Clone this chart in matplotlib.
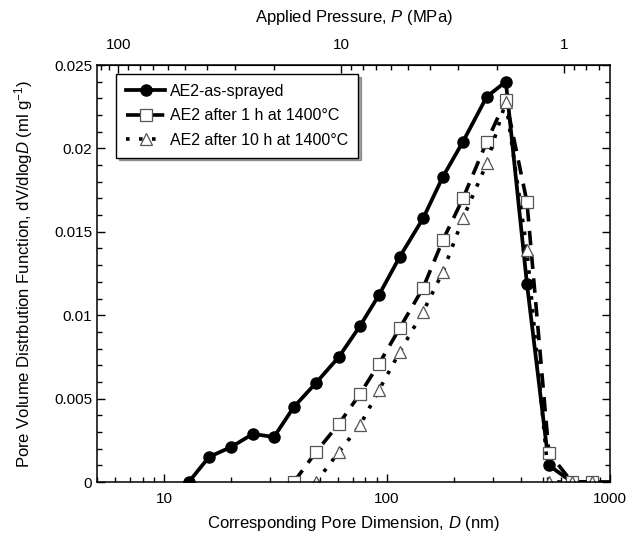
import numpy as np
import matplotlib
matplotlib.use("Agg")
import matplotlib.pyplot as plt
from matplotlib.ticker import FixedLocator, MultipleLocator, FuncFormatter, NullFormatter

plt.rcParams["font.family"] = ["Liberation Sans", "DejaVu Sans"]
plt.rcParams["mathtext.fontset"] = "custom"
plt.rcParams["mathtext.rm"] = "Liberation Sans"
plt.rcParams["mathtext.it"] = "Liberation Sans:italic"

# pore dimension D (nm) - mercury intrusion points
d_sprayed = [12.9, 15.9, 20.0, 25.0, 31.1, 38.2, 48.0, 60.8, 75.6, 91.9, 114, 145,
             178, 219, 280, 341, 424, 532, 675, 830, 1000]
v_sprayed = [0, 0.0015, 0.0021, 0.00288, 0.0027, 0.0045, 0.00594, 0.0075, 0.00935,
             0.0112, 0.0135, 0.0158, 0.0183, 0.0204, 0.0231, 0.0240, 0.0119, 0.0010,
             0, 0, 0]

d_1h = [38.2, 48.0, 60.8, 75.6, 91.9, 114, 145, 178, 219, 280, 341, 424, 532, 675, 830]
v_1h = [0, 0.0018, 0.00348, 0.00528, 0.00707, 0.00923, 0.01163, 0.0145, 0.0170,
        0.0204, 0.0229, 0.0168, 0.00174, 0, 0]

d_10h = [48.0, 60.8, 75.6, 91.9, 114, 145, 178, 219, 280, 341, 424, 532, 675, 830]
v_10h = [0, 0.0018, 0.0034, 0.0055, 0.0078, 0.0102, 0.0126, 0.0158, 0.0191, 0.0228,
         0.0139, 0, 0, 0]

labels = ["AE2-as-sprayed", "AE2 after 1 h at 1400°C", "AE2 after 10 h at 1400°C"]

# top axis ticks (MPa)
p_major = [1, 10, 100]
p_minor = [0.7, 0.8, 0.9] + [m * 10 ** e for e in range(0, 2) for m in range(2, 10)] + [110, 120]

# Washburn: D * P = const (nm * MPa)
WASHBURN = 623.0


def d2p(d):
    d = np.asarray(d, dtype=float)
    with np.errstate(divide="ignore"):
        return WASHBURN / d


fig = plt.figure(figsize=(6.32, 5.37), dpi=100)
ax = fig.add_axes([97 / 632, 1 - 482 / 537, (610 - 97) / 632, (482 - 65) / 537])

ax.plot(d_sprayed, v_sprayed, "-", color="black", lw=2.7, marker="o", ms=8,
        mfc="black", mec="black", markevery=list(range(len(d_sprayed) - 1)),
        label=labels[0])
ax.plot(d_1h, v_1h, color="black", lw=2.6, dashes=(4, 2.6), marker="s", ms=8.5,
        mfc="white", mec="#555555", mew=0.9, label=labels[1])
ax.plot(d_10h, v_10h, color="black", lw=2.6, dashes=(1, 2.6), marker="^", ms=8.5,
        mfc="white", mec="#555555", mew=0.9, label=labels[2])

ax.set_xscale("log")
ax.set_xlim(5, 1000)
ax.set_ylim(0, 0.025)

ax.yaxis.set_major_locator(MultipleLocator(0.005))
ax.yaxis.set_minor_locator(MultipleLocator(0.001))
ax.yaxis.set_major_formatter(FuncFormatter(lambda v, p: f"{v:g}"))
ax.xaxis.set_major_formatter(FuncFormatter(lambda v, p: f"{v:g}"))
ax.xaxis.set_minor_formatter(NullFormatter())

ax.tick_params(which="both", direction="in", top=False, right=True, labelsize=11,
               width=1)
ax.tick_params(which="major", length=6)
ax.tick_params(which="minor", length=3.5)
ax.tick_params(axis="x", pad=7)
for s in ax.spines.values():
    s.set_linewidth(1.1)

ax.set_xlabel("Corresponding Pore Dimension, $\\it{D}$ (nm)", fontsize=12, labelpad=6)
ax.set_ylabel("Pore Volume Distrbution Function, dV/dlog$\\it{D}$ (ml g$^{-1}$)",
              fontsize=12, labelpad=14)

top = ax.secondary_xaxis("top", functions=(d2p, d2p))
top.xaxis.set_major_locator(FixedLocator(p_major))
top.xaxis.set_minor_locator(FixedLocator(p_minor))
top.xaxis.set_major_formatter(FuncFormatter(lambda v, p: f"{v:g}"))
top.xaxis.set_minor_formatter(NullFormatter())
top.tick_params(which="both", direction="in", labelsize=11, width=1, pad=9)
top.tick_params(which="major", length=6)
top.tick_params(which="minor", length=3.5)
top.set_xlabel("Applied Pressure, $\\it{P}$ (MPa)", fontsize=12, labelpad=12)

leg = ax.legend(loc="upper left", bbox_to_anchor=(0.037, 0.978), borderaxespad=0,
                fontsize=11.5, handlelength=2.5, frameon=True, fancybox=False,
                shadow=True, edgecolor="black", framealpha=1, labelspacing=0.6,
                borderpad=0.6, handletextpad=0.3)
leg.get_frame().set_linewidth(1.0)

fig.savefig("out.png", dpi=100)
